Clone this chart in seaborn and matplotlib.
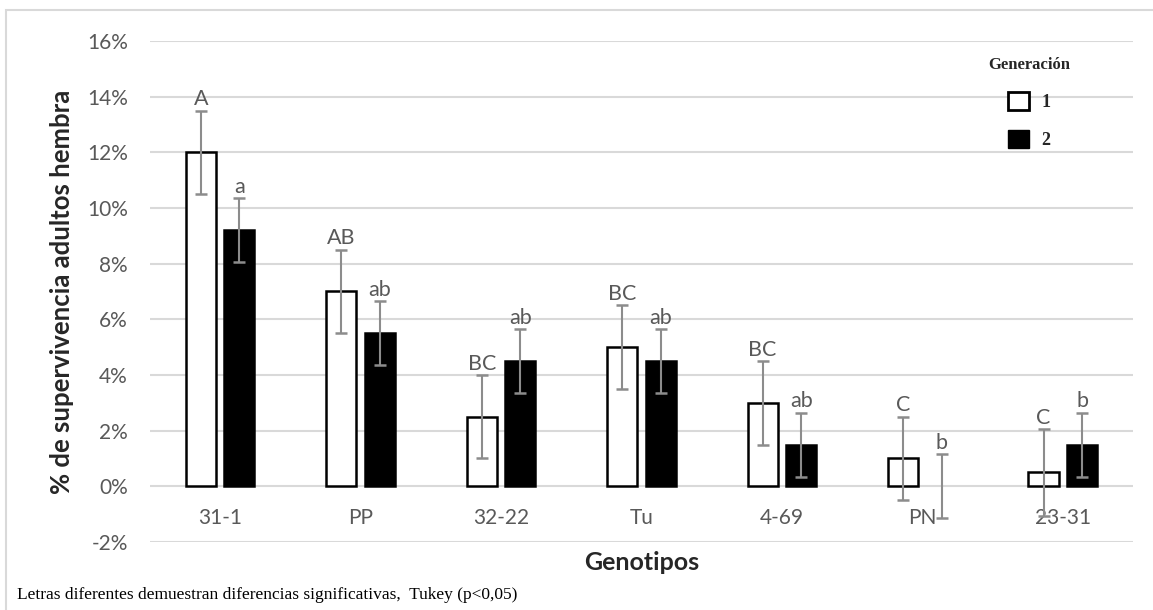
import matplotlib
matplotlib.use("Agg")
import matplotlib.pyplot as plt
from matplotlib.patches import Patch, Rectangle
from matplotlib.ticker import FuncFormatter
import seaborn as sns
import pandas as pd

# datos
genotipos = ["31-1", "PP", "32-22", "Tu", "4-69", "PN", "23-31"]
gen1 = [12.0, 7.0, 2.5, 5.0, 3.0, 1.0, 0.5]
gen2 = [9.2, 5.5, 4.5, 4.5, 1.5, 0.0, 1.5]
err1 = [1.5, 1.5, 1.5, 1.5, 1.5, 1.5, 1.55]
err2 = [1.15, 1.15, 1.15, 1.15, 1.15, 1.15, 1.15]
letras1 = ["A", "AB", "BC", "BC", "BC", "C", "C"]
letras2 = ["a", "ab", "ab", "ab", "ab", "b", "b"]

df = pd.DataFrame({
    "Genotipo": genotipos * 2,
    "Generacion": ["1"] * 7 + ["2"] * 7,
    "valor": gen1 + gen2,
    "err": err1 + err2,
    "letra": letras1 + letras2,
})

sns.set_style("white")
plt.rcParams["font.family"] = ["Lato", "DejaVu Sans"]

fig = plt.figure(figsize=(11.53, 6.10), dpi=100)
ax = fig.add_axes([0.130, 0.1115, 0.8527, 0.8213])

sns.barplot(data=df, x="Genotipo", y="valor", hue="Generacion",
            palette=["white", "black"], edgecolor="black", linewidth=1.8,
            width=0.55, gap=0.22, errorbar=None, legend=False, ax=ax, zorder=3)
ax.set_xlim(-0.5, 6.5)

# barras de error y letras (los patches van en orden de hue)
bars = [p for p in ax.patches if p.get_width() > 0][:14]
for i, p in enumerate(bars):
    if p.get_height() == 0:
        p.set_linewidth(0)  # barra de altura cero no se ve en el original
    xc = p.get_x() + p.get_width() / 2
    v = df["valor"].iloc[i]
    e = df["err"].iloc[i]
    ax.errorbar(xc, v, yerr=e, fmt="none", ecolor="#8c8c8c", elinewidth=1.5,
                capsize=4.3, capthick=1.8, zorder=4)
    ax.annotate(df["letra"].iloc[i], (xc, v + e), xytext=(0, 1),
                textcoords="offset points", ha="center", va="bottom",
                fontsize=15.5, color="#595959", zorder=5)

ax.set_ylim(-2, 16)
ax.set_yticks(range(-2, 17, 2))
ax.yaxis.set_major_formatter(FuncFormatter(lambda v, _: f"{v:.0f}%"))
ax.grid(axis="y", color="#d9d9d9", linewidth=1.5, zorder=0)
ax.set_axisbelow(True)
for s in ax.spines.values():
    s.set_visible(False)
ax.tick_params(axis="both", length=0, labelsize=15, labelcolor="#595959")
ax.tick_params(axis="y", pad=16)
# etiquetas del eje x a la altura del 0%
for lbl in ax.get_xticklabels():
    lbl.set_y(0.077)

ax.set_xlabel("Genotipos", fontsize=18, fontweight="bold")
ax.set_ylabel("% de supervivencia adultos hembra", fontsize=18.5,
              fontweight="bold")
ax.xaxis.set_label_coords(0.5, -0.018)
ax.yaxis.set_label_coords(-0.077, 0.5)

handles = [Patch(facecolor="white", edgecolor="black", linewidth=2),
           Patch(facecolor="black", edgecolor="black")]
leg = ax.legend(handles, ["1", "2"], title="Generación", frameon=False,
                loc="upper right", bbox_to_anchor=(0.947, 0.99),
                prop={"family": "Liberation Serif", "weight": "bold", "size": 13},
                title_fontproperties={"family": "Liberation Serif", "weight": "bold", "size": 12},
                handlelength=1.15, handleheight=1.15, labelspacing=1.05,
                handletextpad=0.7, borderaxespad=0.2)
leg._legend_box.sep = 14

fig.text(0.0147, 0.018, "Letras diferentes demuestran diferencias significativas,  Tukey (p<0,05)",
         family="Liberation Serif", fontsize=12.5, color="black")

# marco del grafico
fig.patches.append(Rectangle((6 / 1153, -0.1), 1.2, 1.1 - 10 / 610,
                             transform=fig.transFigure, fill=False,
                             edgecolor="#d9d9d9", linewidth=1.5))

fig.savefig("out.png", dpi=100)
